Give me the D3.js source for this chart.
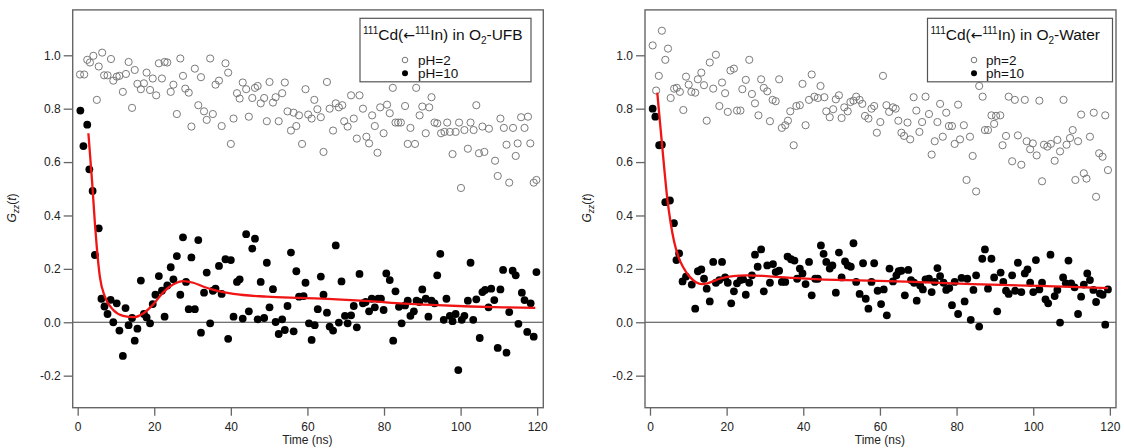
<!DOCTYPE html>
<html><head><meta charset="utf-8">
<script src="https://cdn.jsdelivr.net/npm/d3@7"></script>
<style>body{margin:0;background:#fff} svg{display:block;font-family:"Liberation Sans",Arial,Helvetica,sans-serif}</style>
</head><body><svg id="c" width="1124" height="448"></svg>
<script>
// ---------- data ----------
const yTicks = [-0.2, 0, 0.2, 0.4, 0.6, 0.8, 1.0];
const xTicks = [0, 20, 40, 60, 80, 100, 120];

// Left panel: 111Cd(<-111In) in O2-UFB  [time (ns), G22(t)]
const leftPH2 = [[0.6,0.928],[1.7,0.928],[2.5,0.983],[3.2,0.973],[4.1,0.998],[5.0,0.833],[5.5,0.958],[6.4,1.01],[6.9,0.925],[7.8,0.925],[8.7,0.986],[9.3,0.905],[10.2,0.92],[10.9,0.923],[11.8,0.863],[12.6,0.93],[13.3,0.975],[14.2,0.803],[14.9,0.945],[15.6,0.893],[16.5,0.873],[17.3,0.895],[18.0,0.935],[18.9,0.87],[19.6,0.913],[20.5,0.85],[21.2,0.97],[22.0,0.913],[22.7,0.975],[23.4,0.973],[24.3,0.863],[25.0,0.89],[25.9,0.78],[26.8,0.988],[27.5,0.923],[28.1,0.875],[29.0,0.86],[29.7,0.733],[30.6,0.95],[31.5,0.813],[32.2,0.918],[33.0,0.79],[33.7,0.758],[34.6,0.988],[35.3,0.78],[36.0,0.89],[36.9,0.905],[37.6,0.735],[38.6,0.97],[39.3,0.935],[40.0,0.668],[40.7,0.763],[41.6,0.858],[42.3,0.838],[43.1,0.898],[44.0,0.873],[44.7,0.77],[45.6,0.84],[46.3,0.878],[47.0,0.885],[47.8,0.82],[48.7,0.84],[49.4,0.753],[50.1,0.9],[51.0,0.823],[51.7,0.843],[52.5,0.753],[53.4,0.858],[54.1,0.898],[54.8,0.79],[55.7,0.718],[56.4,0.785],[57.1,0.735],[57.8,0.775],[58.6,0.668],[59.5,0.873],[60.2,0.778],[61.1,0.763],[61.8,0.833],[62.6,0.798],[63.5,0.768],[64.2,0.638],[65.1,0.9],[65.8,0.8],[66.7,0.718],[67.4,0.82],[68.2,0.805],[69.1,0.813],[69.6,0.753],[70.5,0.733],[71.4,0.85],[72.1,0.763],[72.9,0.688],[73.6,0.85],[74.5,0.8],[75.4,0.695],[76.1,0.67],[76.9,0.775],[77.6,0.735],[78.3,0.635],[79.0,0.805],[79.9,0.708],[80.8,0.815],[81.5,0.783],[82.3,0.878],[83.0,0.748],[83.7,0.748],[84.4,0.748],[85.5,0.81],[86.2,0.668],[86.9,0.728],[88.1,0.668],[88.4,0.878],[89.3,0.775],[90.0,0.808],[90.9,0.708],[91.8,0.805],[92.4,0.843],[93.2,0.748],[93.9,0.745],[94.9,0.708],[95.8,0.713],[96.5,0.748],[97.2,0.713],[97.9,0.63],[98.7,0.713],[99.6,0.748],[100.1,0.503],[101.0,0.72],[101.9,0.65],[102.6,0.748],[103.4,0.72],[104.1,0.813],[104.8,0.633],[105.7,0.733],[106.2,0.638],[107.4,0.725],[109.0,0.605],[109.7,0.548],[110.4,0.763],[111.3,0.728],[112.0,0.665],[112.7,0.523],[113.7,0.728],[114.4,0.623],[114.9,0.67],[115.8,0.768],[116.7,0.728],[117.6,0.77],[118.2,0.67],[119.1,0.523],[119.8,0.533]];
const leftPH10 = [[0.7,0.793],[1.5,0.66],[2.5,0.74],[3.05,0.573],[3.9,0.492],[4.5,0.252],[5.5,0.352],[6.2,0.088],[7.0,0.059],[7.8,0.031],[8.6,0.084],[9.3,0.0],[10.2,0.071],[10.9,-0.031],[11.8,-0.126],[12.5,0.053],[13.3,-0.011],[14.2,0.016],[14.9,-0.069],[15.6,-0.024],[16.5,0.156],[17.3,0.031],[18.0,0.018],[18.9,-0.004],[19.6,0.068],[20.3,0.103],[21.2,0.173],[22.0,0.118],[22.7,0.021],[23.4,0.138],[24.3,0.206],[25.0,0.161],[25.9,0.248],[26.8,0.103],[27.5,0.318],[28.3,0.151],[29.0,0.049],[29.7,0.243],[30.6,0.049],[31.5,0.308],[32.2,-0.039],[33.0,0.111],[33.7,0.186],[34.6,-0.004],[35.3,0.118],[36.0,0.126],[36.9,0.211],[37.6,0.106],[38.6,0.236],[39.3,-0.062],[40.0,0.233],[40.7,0.021],[41.6,0.151],[42.3,0.161],[43.1,0.014],[44.0,0.33],[44.7,0.041],[45.6,0.276],[46.3,0.313],[47.0,0.011],[47.8,0.151],[48.7,0.016],[49.4,0.223],[50.1,0.056],[51.0,0.124],[51.7,0.001],[52.5,-0.044],[53.4,0.011],[54.1,-0.029],[54.8,0.061],[55.7,0.261],[56.4,-0.034],[57.1,0.191],[57.8,0.096],[59.0,0.098],[59.5,0.148],[60.4,-0.004],[61.1,-0.066],[61.9,-0.011],[62.7,0.049],[63.5,0.171],[64.2,0.103],[65.1,0.036],[65.8,-0.016],[66.7,-0.031],[67.4,0.288],[68.2,-0.001],[68.9,0.153],[69.8,0.024],[70.5,-0.004],[71.4,0.026],[72.1,0.061],[72.9,-0.019],[73.6,0.181],[74.5,0.071],[75.2,0.076],[76.1,0.041],[76.8,0.088],[77.6,0.056],[78.5,0.088],[79.2,0.088],[79.9,0.046],[80.6,0.183],[81.5,0.158],[82.4,-0.069],[83.0,0.116],[83.9,0.058],[84.6,-0.004],[85.5,0.063],[86.2,0.081],[86.9,0.024],[87.8,0.041],[88.5,0.081],[89.2,0.076],[90.0,0.123],[90.9,0.088],[91.6,0.021],[92.4,0.081],[93.2,0.071],[93.9,0.176],[94.7,0.256],[95.6,0.009],[96.3,0.088],[97.2,0.024],[97.9,0.004],[98.7,0.031],[99.4,-0.179],[100.3,0.009],[101.0,0.024],[101.9,0.081],[102.6,0.223],[103.3,0.009],[104.1,0.086],[105.0,-0.059],[105.7,0.113],[106.4,0.121],[107.3,0.056],[108.0,0.126],[108.8,0.083],[109.7,-0.096],[110.4,0.123],[111.1,0.196],[112.0,-0.114],[112.7,0.038],[113.6,0.193],[114.4,0.176],[115.1,-0.006],[116.0,0.111],[116.7,0.083],[117.4,-0.036],[118.3,0.071],[119.1,-0.054],[119.8,0.188]];
const leftFit = [[2.8,0.708],[3.8,0.52],[4.5,0.37],[5.0,0.28],[5.8,0.17],[7.1,0.096],[9.3,0.046],[11.9,0.024],[14.6,0.019],[17.2,0.034],[19.8,0.068],[22.4,0.113],[25.0,0.142],[27.6,0.154],[30.2,0.148],[32.9,0.133],[35.5,0.121],[40.7,0.106],[49.4,0.096],[58.1,0.091],[67.7,0.086],[76.4,0.079],[85.2,0.07],[93.9,0.064],[102.6,0.059],[111.3,0.056],[119.5,0.054]];

// Right panel: 111Cd(<-111In) in O2-Water
const rightPH2 = [[0.7,1.037],[1.6,0.868],[2.3,0.923],[3.1,1.092],[4.0,0.983],[4.7,1.025],[5.4,0.84],[6.3,0.875],[7.0,0.878],[7.8,0.863],[8.7,0.795],[9.4,0.92],[10.1,0.89],[10.8,0.863],[11.8,0.86],[12.5,0.91],[13.4,0.935],[14.1,0.888],[14.8,0.755],[15.6,0.973],[16.5,0.875],[17.2,1.002],[18.1,0.81],[18.8,0.898],[19.6,0.858],[20.3,0.788],[21.0,0.943],[21.9,0.95],[22.7,0.793],[23.6,0.793],[24.1,0.873],[25.0,0.908],[25.9,0.983],[26.6,0.855],[27.4,0.82],[28.3,0.775],[29.0,0.91],[29.7,0.878],[30.6,0.865],[31.3,0.753],[32.0,0.833],[32.8,0.828],[33.7,0.91],[34.4,0.728],[35.3,0.738],[36.0,0.755],[36.6,0.79],[37.5,0.663],[38.2,0.81],[39.1,0.813],[39.8,0.893],[40.6,0.738],[41.5,0.833],[42.2,0.928],[42.9,0.845],[43.8,0.84],[44.5,0.885],[45.5,0.843],[46.0,0.79],[46.9,0.768],[47.8,0.798],[48.5,0.835],[49.3,0.85],[50.0,0.765],[50.7,0.805],[51.6,0.79],[52.3,0.825],[53.1,0.83],[53.8,0.845],[54.7,0.833],[55.4,0.818],[56.1,0.773],[57.0,0.763],[57.8,0.8],[58.5,0.81],[59.2,0.71],[60.1,0.75],[60.8,0.923],[61.7,0.813],[62.4,0.788],[63.4,0.805],[64.1,0.8],[64.8,0.755],[65.6,0.71],[66.3,0.698],[67.2,0.748],[67.9,0.685],[68.8,0.843],[69.5,0.793],[70.3,0.713],[71.0,0.75],[71.9,0.845],[72.8,0.78],[73.5,0.628],[74.3,0.678],[75.0,0.75],[75.7,0.818],[76.4,0.695],[77.3,0.785],[78.0,0.735],[78.8,0.735],[79.5,0.668],[80.4,0.815],[80.9,0.685],[81.9,0.738],[82.6,0.533],[83.5,0.695],[84.2,0.623],[85.1,0.49],[85.9,0.885],[86.8,0.845],[87.4,0.72],[88.2,0.72],[89.1,0.775],[89.8,0.743],[90.3,0.773],[91.4,0.775],[92.0,0.663],[92.9,0.698],[93.6,0.845],[94.5,0.603],[95.2,0.833],[96.0,0.7],[96.9,0.59],[97.8,0.833],[98.3,0.678],[99.2,0.648],[99.9,0.67],[100.9,0.625],[101.6,0.83],[102.3,0.528],[102.8,0.665],[103.7,0.658],[104.6,0.668],[105.6,0.605],[106.3,0.683],[107.0,0.64],[107.9,0.833],[108.7,0.665],[109.6,0.69],[110.3,0.72],[111.0,0.533],[111.7,0.678],[112.5,0.778],[113.2,0.558],[113.9,0.538],[114.8,0.695],[115.8,0.785],[116.4,0.47],[117.2,0.633],[118.1,0.62],[118.8,0.775],[119.5,0.57]];
const rightPH10 = [[0.7,0.8],[1.4,0.77],[2.4,0.663],[3.1,0.665],[4.0,0.45],[5.2,0.456],[6.25,0.371],[6.9,0.233],[7.6,0.258],[8.5,0.153],[9.4,0.171],[10.9,0.141],[11.8,0.051],[12.5,0.191],[13.4,0.198],[14.1,0.163],[14.8,0.126],[15.6,0.078],[16.5,0.226],[17.2,0.148],[18.1,0.158],[18.8,0.226],[19.6,0.168],[20.3,0.148],[21.2,0.071],[21.9,0.116],[22.7,0.146],[23.6,0.158],[24.3,0.161],[25.0,0.103],[25.9,0.148],[26.6,0.176],[27.4,0.253],[28.1,0.208],[29.0,0.273],[29.7,0.116],[30.6,0.213],[31.3,0.148],[32.1,0.218],[32.8,0.188],[33.7,0.193],[34.4,0.151],[35.3,0.151],[35.9,0.246],[36.8,0.236],[37.7,0.231],[38.4,0.163],[39.1,0.201],[39.8,0.183],[40.6,0.143],[41.5,0.226],[42.2,0.101],[43.1,0.163],[43.8,0.163],[44.6,0.288],[45.3,0.256],[46.0,0.226],[46.9,0.201],[47.6,0.213],[48.5,0.111],[49.3,0.261],[50.0,0.168],[50.9,0.228],[51.6,0.213],[52.4,0.208],[53.1,0.296],[53.8,0.151],[54.7,0.106],[55.6,0.221],[56.3,0.088],[57.0,0.051],[57.8,0.151],[58.5,0.221],[59.4,0.118],[60.3,0.068],[61.0,0.123],[61.8,0.026],[62.5,0.201],[63.4,0.153],[64.3,0.176],[64.9,0.191],[65.6,0.193],[66.5,0.101],[67.4,0.196],[68.1,0.158],[68.9,0.148],[69.6,0.081],[70.5,0.138],[71.2,0.123],[71.9,0.161],[72.8,0.163],[73.5,0.113],[74.3,0.151],[75.0,0.203],[75.7,0.173],[76.6,0.148],[77.3,0.121],[78.1,0.128],[78.8,0.064],[79.5,0.151],[80.4,0.031],[81.3,0.166],[82.1,0.078],[82.8,0.163],[83.7,0.009],[84.4,0.121],[85.1,0.176],[85.9,-0.016],[86.7,0.238],[87.4,0.273],[88.2,0.126],[89.1,0.238],[89.8,0.168],[90.6,0.041],[91.5,0.186],[92.2,0.151],[92.9,0.118],[93.6,0.106],[94.5,0.176],[95.3,0.118],[96.0,0.223],[96.9,0.113],[97.8,0.183],[98.5,0.198],[99.2,0.148],[100.0,0.113],[100.7,0.233],[101.6,0.123],[102.3,0.148],[103.2,0.086],[103.9,0.071],[104.5,0.253],[105.6,0.098],[106.3,0.121],[107.0,-0.001],[107.8,0.168],[108.5,0.146],[109.2,0.231],[109.9,0.146],[110.8,0.131],[111.7,0.031],[112.5,0.096],[113.2,0.141],[114.1,0.183],[114.8,0.158],[115.7,0.121],[116.4,0.076],[117.4,0.108],[118.1,0.103],[118.8,-0.009],[119.5,0.123]];
const rightFit = [[1.9,0.86],[2.8,0.72],[3.7,0.58],[4.5,0.465],[5.4,0.372],[6.25,0.305],[7.4,0.246],[8.7,0.205],[10.4,0.17],[12.0,0.15],[13.5,0.143],[15.0,0.146],[18.2,0.163],[21.7,0.173],[25.2,0.176],[30.4,0.173],[37.3,0.166],[44.3,0.161],[51.2,0.158],[57.3,0.156],[66.8,0.152],[84.2,0.143],[101.6,0.136],[119.5,0.128]];

const legendLabelsLeft = ["pH=2", "pH=10"];
const legendLabelsRight = ["ph=2", "ph=10"];

// ---------- drawing ----------
const svg = d3.select("#c");
const FONT = '"Liberation Sans", Arial, Helvetica, sans-serif';
const y = d3.scaleLinear().domain([-0.32, 1.17]).range([407.7, 9.9]);

const panels = [
  {x0: 72.7, x1: 543.3, ph2: leftPH2, ph10: leftPH10, fit: leftFit, medium: "-UFB", labels: legendLabelsLeft,
   ylx: 16, leg: {x: 360, w: 171, cx: 405, tx: 418}},
  {x0: 645, x1: 1116, ph2: rightPH2, ph10: rightPH10, fit: rightFit, medium: "-Water", labels: legendLabelsRight,
   ylx: 591, leg: {x: 927.5, w: 185, cx: 974, tx: 986}}
];

panels.forEach(p => {
  const x = d3.scaleLinear().domain([-1.3, 121.6]).range([p.x0, p.x1]);
  const g = svg.append("g");

  // zero line
  g.append("line").attr("x1", p.x0).attr("x2", p.x1).attr("y1", y(0)).attr("y2", y(0))
    .attr("stroke", "#444").attr("stroke-width", 1.2);

  // pH=2 open circles
  g.append("g").selectAll("circle").data(p.ph2).join("circle")
    .attr("cx", d => x(d[0])).attr("cy", d => y(d[1])).attr("r", 3.6)
    .attr("fill", "none").attr("stroke", "#7a7a7a").attr("stroke-width", 1);

  // pH=10 filled circles
  g.append("g").selectAll("circle").data(p.ph10).join("circle")
    .attr("cx", d => x(d[0])).attr("cy", d => y(d[1])).attr("r", 3.9)
    .attr("fill", "#000");

  // fit curve
  g.append("path").datum(p.fit)
    .attr("d", d3.line().x(d => x(d[0])).y(d => y(d[1])).curve(d3.curveMonotoneX))
    .attr("fill", "none").attr("stroke", "#f01414").attr("stroke-width", 2.3);

  // frame
  g.append("rect").attr("x", p.x0).attr("y", y.range()[1]).attr("width", p.x1 - p.x0)
    .attr("height", y.range()[0] - y.range()[1]).attr("fill", "none")
    .attr("stroke", "#666").attr("stroke-width", 1.4);

  // y axis
  const ya = g.append("g").attr("transform", `translate(${p.x0},0)`)
    .call(d3.axisLeft(y).tickValues(yTicks).tickSize(9).tickPadding(3).tickFormat(d => d.toFixed(1)));
  ya.select(".domain").remove();
  ya.attr("font-family", FONT).attr("font-size", 12).attr("color", "#666");
  ya.selectAll("text").attr("fill", "#222");
  ya.selectAll("line").attr("stroke-width", 1.3);

  // x axis
  const xa = g.append("g").attr("transform", `translate(0,${y.range()[0]})`)
    .call(d3.axisBottom(x).tickValues(xTicks).tickSize(8).tickPadding(7));
  xa.select(".domain").remove();
  xa.attr("font-family", FONT).attr("font-size", 12).attr("color", "#666");
  xa.selectAll("text").attr("fill", "#222");
  xa.selectAll("line").attr("stroke-width", 1.3);

  // axis titles
  g.append("text").attr("x", x(60)).attr("y", 444).attr("text-anchor", "middle")
    .attr("font-family", FONT).attr("font-size", 12).attr("fill", "#222").text("Time (ns)");

  const yl = g.append("text").attr("transform", `translate(${p.ylx},208) rotate(-90)`)
    .attr("text-anchor", "middle").attr("font-family", FONT).attr("font-size", 12).attr("fill", "#222");
  yl.append("tspan").attr("font-style", "italic").text("G");
  yl.append("tspan").attr("font-style", "italic").attr("font-size", 8.5).attr("dy", 3).text("zz");
  yl.append("tspan").attr("dy", -3).text("(");
  yl.append("tspan").attr("font-style", "italic").text("t");
  yl.append("tspan").text(")");

  // legend
  const L = p.leg;
  const lg = g.append("g").attr("font-family", FONT).attr("fill", "#111");
  lg.append("rect").attr("x", L.x).attr("y", 18.3).attr("width", L.w).attr("height", 63.5)
    .attr("fill", "#fff").attr("stroke", "#555").attr("stroke-width", 1.2);
  const t = lg.append("text").attr("x", L.x + 3).attr("y", 40).attr("font-size", 15.5);
  t.append("tspan").attr("font-size", 10).attr("dy", -6).text("111");
  t.append("tspan").attr("dy", 6).text("Cd(");
  t.append("tspan").attr("font-family", '"DejaVu Sans", sans-serif').attr("font-size", 14).text("\u2190");
  t.append("tspan").attr("font-size", 10).attr("dy", -6).text("111");
  t.append("tspan").attr("dy", 6).text("In) in O");
  t.append("tspan").attr("font-size", 10).attr("dy", 3.5).text("2");
  t.append("tspan").attr("dy", -3.5).text(p.medium);

  lg.append("circle").attr("cx", L.cx).attr("cy", 60).attr("r", 2.8)
    .attr("fill", "none").attr("stroke", "#777").attr("stroke-width", 1);
  lg.append("circle").attr("cx", L.cx).attr("cy", 73.3).attr("r", 3).attr("fill", "#000");
  lg.append("text").attr("x", L.tx).attr("y", 64.8).attr("font-size", 13.5).text(p.labels[0]);
  lg.append("text").attr("x", L.tx).attr("y", 78.1).attr("font-size", 13.5).text(p.labels[1]);
});
</script>
</body></html>
